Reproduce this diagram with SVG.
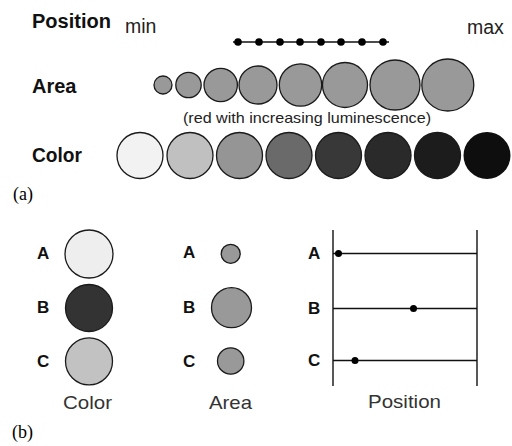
<svg xmlns="http://www.w3.org/2000/svg" width="512" height="446" viewBox="0 0 512 446">
<style>
.hb{font-family:"Liberation Sans",Arial,sans-serif;font-weight:bold;font-size:20px;fill:#111}
.lb{font-family:"Liberation Sans",Arial,sans-serif;font-weight:bold;font-size:17px;fill:#111}
.n{font-family:"Liberation Sans",Arial,sans-serif;font-size:19.5px;fill:#222}
.cap{font-family:"Liberation Sans",Arial,sans-serif;font-size:19px;fill:#333}
.sm{font-family:"Liberation Sans",Arial,sans-serif;font-size:15px;fill:#222}
.ser{font-family:"Liberation Serif","Times New Roman",serif;font-size:18px;fill:#000}
.c{stroke:#1a1a1a;stroke-width:1.3}
.a{fill:#999999}
.d{fill:#000}
.ln{stroke:#111;stroke-width:1.4;fill:none}
</style>
<rect width="512" height="446" fill="#fff"/>

<g id="panel-a-labels">
<text class="hb" x="32" y="28">Position</text>
<text class="n" x="125" y="33">min</text>
<text class="n" x="467" y="33.5">max</text>
<text class="hb" x="32" y="93">Area</text>
<text class="sm" x="183" y="123" textLength="248" lengthAdjust="spacingAndGlyphs">(red with increasing luminescence)</text>
<text class="hb" x="32" y="161.5" textLength="50" lengthAdjust="spacingAndGlyphs">Color</text>
<text class="ser" x="13" y="200">(a)</text>
</g>

<g id="position-scale">
<line class="ln" x1="233" y1="42" x2="389" y2="42"/>
<circle class="d" cx="238" cy="42" r="3.8"/>
<circle class="d" cx="259" cy="42" r="3.8"/>
<circle class="d" cx="280" cy="42" r="3.8"/>
<circle class="d" cx="300" cy="42" r="3.8"/>
<circle class="d" cx="321" cy="42" r="3.8"/>
<circle class="d" cx="341" cy="42" r="3.8"/>
<circle class="d" cx="362" cy="42" r="3.8"/>
<circle class="d" cx="383" cy="42" r="3.8"/>
</g>

<g id="area-scale">
<circle class="c a" cx="163" cy="85" r="9"/>
<circle class="c a" cx="188.5" cy="85" r="12.7"/>
<circle class="c a" cx="220.7" cy="85" r="16.7"/>
<circle class="c a" cx="258" cy="85" r="19"/>
<circle class="c a" cx="300.5" cy="85" r="21.2"/>
<circle class="c a" cx="345" cy="85" r="22.5"/>
<circle class="c a" cx="395" cy="85" r="25"/>
<circle class="c a" cx="447.8" cy="85" r="26"/>
</g>

<g id="color-scale">
<circle class="c" cx="140" cy="155.5" r="23" fill="#f2f2f2"/>
<circle class="c" cx="190" cy="155.5" r="23" fill="#c0c0c0"/>
<circle class="c" cx="239.5" cy="155.5" r="23" fill="#959595"/>
<circle class="c" cx="289" cy="155.5" r="23" fill="#6a6a6a"/>
<circle class="c" cx="338.5" cy="155.5" r="23" fill="#383838"/>
<circle class="c" cx="388" cy="155.5" r="23" fill="#2a2a2a"/>
<circle class="c" cx="437.5" cy="155.5" r="23" fill="#1c1c1c"/>
<circle cx="487" cy="155.5" r="23.5" fill="#0e0e0e"/>
</g>

<g id="color-column">
<text class="lb" x="37" y="258.5">A</text>
<text class="lb" x="37" y="312.5">B</text>
<text class="lb" x="37" y="366.5">C</text>
<circle class="c" cx="89" cy="254" r="24" fill="#eeeeee"/>
<circle class="c" cx="89" cy="308" r="23.5" fill="#333333"/>
<circle class="c" cx="89" cy="361.3" r="23.5" fill="#c2c2c2"/>
<text class="cap" x="63" y="409" textLength="49" lengthAdjust="spacingAndGlyphs">Color</text>
</g>

<g id="area-column">
<text class="lb" x="183" y="258">A</text>
<text class="lb" x="183" y="312.5">B</text>
<text class="lb" x="183" y="366.5">C</text>
<circle class="c a" cx="230.7" cy="253.8" r="9.5"/>
<circle class="c a" cx="231.5" cy="307.7" r="20"/>
<circle class="c a" cx="230.7" cy="361" r="13.2"/>
<text class="cap" x="209" y="409" textLength="43" lengthAdjust="spacingAndGlyphs">Area</text>
</g>

<g id="position-column">
<text class="lb" x="308" y="258.5">A</text>
<text class="lb" x="308" y="314">B</text>
<text class="lb" x="308" y="366">C</text>
<line class="ln" x1="333" y1="230" x2="333" y2="386" stroke-width="1.6"/>
<line class="ln" x1="477" y1="230" x2="477" y2="386" stroke-width="1.6"/>
<line class="ln" x1="333" y1="253.5" x2="477" y2="253.5" stroke="#555" stroke-width="1.8"/>
<line class="ln" x1="333" y1="308.5" x2="477" y2="308.5"/>
<line class="ln" x1="333" y1="360.5" x2="477" y2="360.5"/>
<circle class="d" cx="338.5" cy="253.5" r="3.5"/>
<circle class="d" cx="413.5" cy="308.5" r="3.5"/>
<circle class="d" cx="355" cy="360.5" r="3.5"/>
<text class="cap" x="368" y="408" textLength="73" lengthAdjust="spacingAndGlyphs">Position</text>
</g>

<g id="panel-b-label">
<text class="ser" x="12" y="438">(b)</text>
</g>
</svg>
